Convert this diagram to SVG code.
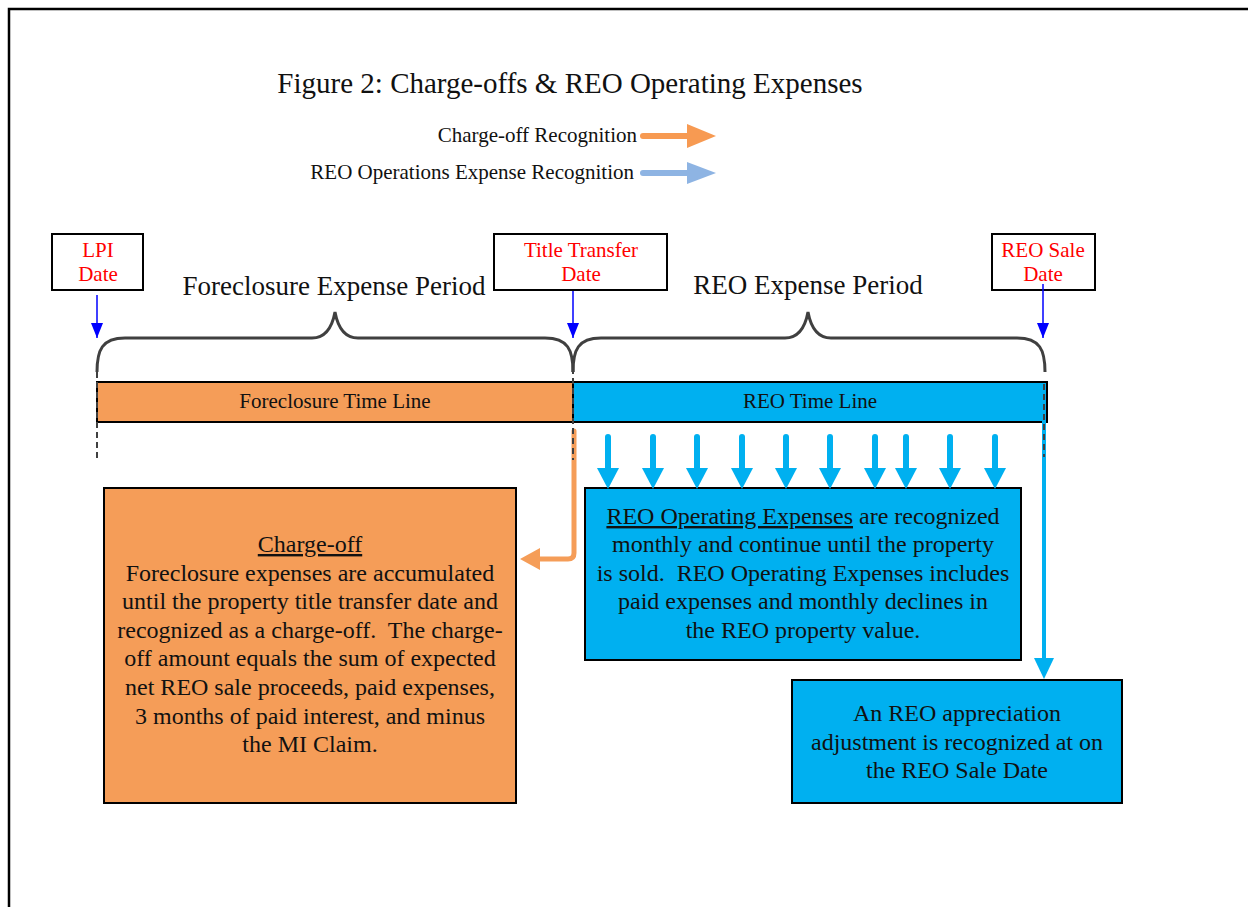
<svg xmlns="http://www.w3.org/2000/svg" width="1248" height="907" viewBox="0 0 1248 907">
<style>
  text { font-family: "Liberation Serif", "Times New Roman", serif; fill: #111; }
  .title { font-size: 29px; }
  .legend { font-size: 21px; text-anchor: end; }
  .period { font-size: 27px; text-anchor: middle; }
  .date { font-size: 21px; fill: #FF0000; text-anchor: middle; }
  .bar { font-size: 21px; text-anchor: middle; }
  .body { font-size: 24px; text-anchor: middle; }
  .datebox { fill: #fff; stroke: #000; stroke-width: 2; }
  .orange { fill: #F59D58; stroke: #000; stroke-width: 2; }
  .blue { fill: #00B0F0; stroke: #000; stroke-width: 2; }
  .brace { fill: none; stroke: #404040; stroke-width: 3; }
  .dash { stroke: #404040; stroke-width: 2; stroke-dasharray: 6 4; fill: none; }
  .ptr { stroke: #0000FF; stroke-width: 1.5; fill: none; }
  .mon { stroke: #00B0F0; stroke-width: 6; stroke-linecap: round; fill: none; }
</style>
<defs>
  <marker id="ptrHead" markerUnits="userSpaceOnUse" markerWidth="12" markerHeight="16" refX="6" refY="15" orient="0" viewBox="0 0 12 16">
    <path d="M0,0 L12,0 L6,15 Z" fill="#0000FF"/>
  </marker>
  <marker id="monHead" markerUnits="userSpaceOnUse" markerWidth="22" markerHeight="22" refX="11" refY="0" orient="0" viewBox="0 0 22 22">
    <path d="M0,0 L22,0 L11,21 Z" fill="#00B0F0"/>
  </marker>
</defs>

<!-- page frame -->
<path d="M9,920 V9 H1260" fill="none" stroke="#000" stroke-width="2.5"/>

<g id="title">
  <text class="title" x="570" y="93" text-anchor="middle">Figure 2: Charge-offs &amp; REO Operating Expenses</text>
</g>

<g id="legend">
  <text class="legend" x="637" y="142">Charge-off Recognition</text>
  <line x1="643" y1="136" x2="690" y2="136" stroke="#F79A52" stroke-width="6" stroke-linecap="round"/>
  <path d="M687,124 L716,136 L687,148 Z" fill="#F79A52"/>
  <text class="legend" x="634" y="179">REO Operations Expense Recognition</text>
  <line x1="643" y1="173" x2="690" y2="173" stroke="#8EB4E3" stroke-width="6" stroke-linecap="round"/>
  <path d="M687,162 L716,173 L687,184 Z" fill="#8EB4E3"/>
</g>

<g id="lpi-date">
  <rect class="datebox" x="52" y="234" width="91" height="56"/>
  <text class="date" x="98" y="257">LPI</text>
  <text class="date" x="98" y="281">Date</text>
</g>
<g id="title-transfer-date">
  <rect class="datebox" x="494" y="234" width="173" height="56"/>
  <text class="date" x="581" y="257">Title Transfer</text>
  <text class="date" x="581" y="281">Date</text>
</g>
<g id="reo-sale-date">
  <rect class="datebox" x="992" y="234" width="103" height="56"/>
  <text class="date" x="1043" y="257">REO Sale</text>
  <text class="date" x="1043" y="281">Date</text>
</g>

<g id="periods">
  <text class="period" x="334" y="295">Foreclosure Expense Period</text>
  <text class="period" x="808" y="294">REO Expense Period</text>
  <path class="brace" d="M97,372 C97,350 102,338 125,338 L312,338 C325,338 332,328 335,312 C338,328 345,338 358,338 L545,338 C568,338 573,350 573,372"/>
  <path class="brace" d="M573,372 C573,350 578,338 601,338 L785,338 C798,338 805,328 808,312 C811,328 818,338 831,338 L1017,338 C1040,338 1045,350 1045,372"/>
</g>

<g id="foreclosure-timeline">
  <rect class="orange" x="97" y="382" width="476" height="40"/>
  <text class="bar" x="335" y="408">Foreclosure Time Line</text>
</g>
<g id="reo-timeline">
  <rect class="blue" x="573" y="382" width="474" height="40"/>
  <text class="bar" x="810" y="408">REO Time Line</text>
</g>

<g id="charge-off-box">
  <rect class="orange" x="104" y="488" width="412" height="315"/>
  <text class="body" x="310" y="552"><tspan text-decoration="underline">Charge-off</tspan></text>
  <text class="body" x="310" y="581">Foreclosure expenses are accumulated</text>
  <text class="body" x="310" y="609">until the property title transfer date and</text>
  <text class="body" x="310" y="638">recognized as a charge-off.&#160; The charge-</text>
  <text class="body" x="310" y="666">off amount equals the sum of expected</text>
  <text class="body" x="310" y="695">net REO sale proceeds, paid expenses,</text>
  <text class="body" x="310" y="724">3 months of paid interest, and minus</text>
  <text class="body" x="310" y="752">the MI Claim.</text>
</g>

<g id="reo-operating-box">
  <rect class="blue" x="585" y="488" width="436" height="172"/>
  <text class="body" x="803" y="524"><tspan text-decoration="underline">REO Operating Expenses</tspan> are recognized</text>
  <text class="body" x="803" y="552">monthly and continue until the property</text>
  <text class="body" x="803" y="581">is sold.&#160; REO Operating Expenses includes</text>
  <text class="body" x="803" y="609">paid expenses and monthly declines in</text>
  <text class="body" x="803" y="638">the REO property value.</text>
</g>

<g id="appreciation-box">
  <rect class="blue" x="792" y="680" width="330" height="123"/>
  <text class="body" x="957" y="721">An REO appreciation</text>
  <text class="body" x="957" y="750">adjustment is recognized at on</text>
  <text class="body" x="957" y="778">the REO Sale Date</text>
</g>

<g id="connectors">
  <!-- date pointers -->
  <line class="ptr" x1="97" y1="295" x2="97" y2="338" marker-end="url(#ptrHead)"/>
  <line class="ptr" x1="573" y1="291" x2="573" y2="338" marker-end="url(#ptrHead)"/>
  <line class="ptr" x1="1043" y1="284" x2="1043" y2="338" marker-end="url(#ptrHead)"/>
  <!-- charge-off recognition -->
  <path d="M574,431 V553 Q574,559 568,559 H536" fill="none" stroke="#F59D58" stroke-width="5" stroke-linecap="round"/>
  <path d="M520,559 L540,548 L540,570 Z" fill="#F59D58"/>
  <!-- appreciation adjustment -->
  <line x1="1044" y1="421" x2="1044" y2="662" stroke="#00B0F0" stroke-width="4"/>
  <path d="M1034,658 L1054,658 L1044,679 Z" fill="#00B0F0"/>
  <!-- monthly REO expense arrows -->
  <line class="mon" x1="608" y1="437" x2="608" y2="468" marker-end="url(#monHead)"/>
  <line class="mon" x1="653" y1="437" x2="653" y2="468" marker-end="url(#monHead)"/>
  <line class="mon" x1="697" y1="437" x2="697" y2="468" marker-end="url(#monHead)"/>
  <line class="mon" x1="742" y1="437" x2="742" y2="468" marker-end="url(#monHead)"/>
  <line class="mon" x1="786" y1="437" x2="786" y2="468" marker-end="url(#monHead)"/>
  <line class="mon" x1="830" y1="437" x2="830" y2="468" marker-end="url(#monHead)"/>
  <line class="mon" x1="875" y1="437" x2="875" y2="468" marker-end="url(#monHead)"/>
  <line class="mon" x1="906" y1="437" x2="906" y2="468" marker-end="url(#monHead)"/>
  <line class="mon" x1="950" y1="437" x2="950" y2="468" marker-end="url(#monHead)"/>
  <line class="mon" x1="995" y1="437" x2="995" y2="468" marker-end="url(#monHead)"/>
  <!-- dashed date guides -->
  <line class="dash" x1="97" y1="372" x2="97" y2="458"/>
  <line class="dash" x1="573" y1="368" x2="573" y2="460"/>
  <line class="dash" x1="1044" y1="384" x2="1044" y2="457"/>
</g>
</svg>
